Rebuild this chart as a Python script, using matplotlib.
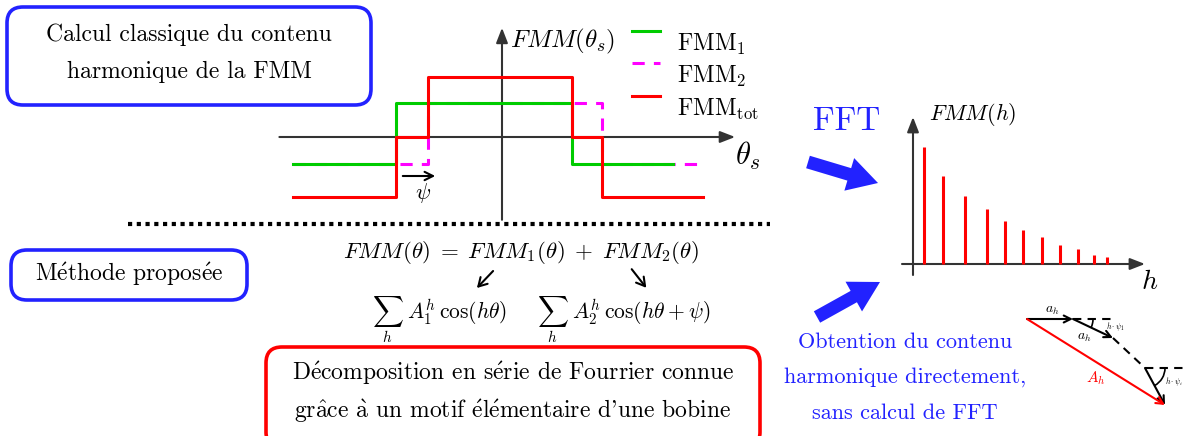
import numpy as np
import matplotlib
matplotlib.use("Agg")
import matplotlib.pyplot as plt
from matplotlib.patches import FancyBboxPatch, FancyArrow, Arc

plt.rcParams['font.family'] = ['cmr10', 'DejaVu Serif']
plt.rcParams['mathtext.fontset'] = 'cm'
plt.rcParams['axes.unicode_minus'] = False

W, H = 1184, 436

# --- waveform data (theta in units of ~70 px, amplitude in units of ~60 px)
theta_1 = [-2.99, -1.51, -1.51, 1.0, 1.0, 2.44]
fmm_1 = [-0.45, -0.45, 0.57, 0.57, -0.45, -0.45]
theta_2 = [-2.99, -1.06, -1.06, 1.43, 1.43, 2.87]
fmm_2 = [-0.45, -0.45, 0.57, 0.57, -0.45, -0.45]
theta_tot = [-2.99, -1.51, -1.51, -1.06, -1.06, 1.0, 1.0, 1.43, 1.43, 2.87]
fmm_tot = [-1.0, -1.0, 0.0, 0.0, 1.0, 1.0, 0.0, 0.0, -1.0, -1.0]

# --- spectrum data
h_pos = [0.55, 1.5, 2.6, 3.7, 4.6, 5.5, 6.45, 7.35, 8.25, 9.05, 9.7]
h_amp = [1.17, 0.88, 0.68, 0.55, 0.43, 0.34, 0.27, 0.19, 0.15, 0.09, 0.07]

# --- phasor chain (pixel-like units, y downwards)
ph_dx = [46, 40, 32, 20]
ph_dy = [0, 19, 30, 37]
ph_style = ['arrow', 'arrow', 'dashed', 'arrow']

legend_labels = [r'$\mathrm{FMM}_1$', r'$\mathrm{FMM}_2$', r'$\mathrm{FMM}_{\mathrm{tot}}$']

GREEN = '#00cc00'
MAGENTA = '#ff00ff'
RED = '#ff0000'
BLUE = '#2222ff'
AXC = '#333333'

# cmr10 has no precomposed accents: build them with mathtext
ACCENTS = {'é': r'$\mathrm{\acute{e}}$', 'à': r'$\mathrm{\grave{a}}$',
           'â': r'$\mathrm{\hat{a}}$'}


def fr(s):
    return ''.join(ACCENTS.get(c, c) for c in s)


fig = plt.figure(figsize=(W / 100, H / 100), dpi=100)
ax = fig.add_axes([0, 0, 1, 1])
ax.set_xlim(0, W)
ax.set_ylim(H, 0)
ax.axis('off')


def inset(x0, y0, x1, y1):
    a = fig.add_axes([x0 / W, 1 - y1 / H, (x1 - x0) / W, (y1 - y0) / H])
    a.axis('off')
    a.patch.set_alpha(0)
    return a


def rbox(x0, y0, x1, y1, color):
    ax.add_patch(FancyBboxPatch((x0, y0), x1 - x0, y1 - y0,
                                boxstyle='round,pad=0,rounding_size=16',
                                fc='white', ec=color, lw=2.6, zorder=1))


# boxes with text
rbox(7, 7, 371, 105, BLUE)
ax.text(189, 35, 'Calcul classique du contenu', ha='center', va='center', fontsize=17)
ax.text(189, 72, 'harmonique de la FMM', ha='center', va='center', fontsize=17)

rbox(11, 250, 247, 300, BLUE)
ax.text(129, 274, fr('Méthode proposée'), ha='center', va='center', fontsize=17)

rbox(266, 347, 760, 448, RED)
ax.text(513, 373, fr('Décomposition en série de Fourrier connue'), ha='center', va='center', fontsize=17)
ax.text(513, 411, fr('grâce à un motif élémentaire d') + "'" + 'une bobine',
        ha='center', va='center', fontsize=17)

# waveform
wa = inset(280, 15, 770, 225)
wa.set_xlim((280 - 502) / 70, (770 - 502) / 70)
wa.set_ylim((137 - 225) / 60, (137 - 15) / 60)
wa.annotate('', xy=(3.33, 0), xytext=(-3.18, 0),
            arrowprops=dict(arrowstyle='-|>,head_length=0.9,head_width=0.35', color=AXC, lw=1.5,
                            shrinkA=0, shrinkB=0), zorder=1)
wa.annotate('', xy=(0, 1.82), xytext=(0, -1.38),
            arrowprops=dict(arrowstyle='-|>,head_length=0.9,head_width=0.35', color=AXC, lw=1.5,
                            shrinkA=0, shrinkB=0), zorder=1)
wa.plot(theta_2, fmm_2, color=MAGENTA, lw=2.2, dashes=(4, 3), zorder=2)
wa.plot(theta_1, fmm_1, color=GREEN, lw=2.2, zorder=3)
wa.plot(theta_tot, fmm_tot, color=RED, lw=2.2, zorder=4)

# psi arrow
ax.annotate('', xy=(438, 176), xytext=(400, 176),
            arrowprops=dict(arrowstyle='->,head_length=0.6,head_width=0.3', color='black', lw=1.5))
ax.text(423, 193, r'$\psi$', ha='center', va='center', fontsize=16)

ax.text(510, 41, r'$FMM(\theta_s)$', ha='left', va='center', fontsize=18)
ax.text(748, 156, r'$\theta_s$', ha='center', va='center', fontsize=22)

# legend
for i, (lab, c) in enumerate(zip(legend_labels, [GREEN, MAGENTA, RED])):
    yl = 31 + 32.5 * i
    if i == 1:
        ax.plot([632, 660], [yl, yl], color=c, lw=2.2, dashes=(4, 3))
    else:
        ax.plot([632, 660], [yl, yl], color=c, lw=2.2)
    ax.text(677, yl + 13, lab, ha='left', va='center', fontsize=17)

# dotted separator
ax.plot([128, 770], [224, 224], color='black', lw=3, linestyle=(0, (1, 1.1)))

# equation
ax.text(521, 252, r'$FMM(\theta)\;=\;FMM_1(\theta)\;+\;FMM_2(\theta)$',
        ha='center', va='center', fontsize=16.5)
ax.annotate('', xy=(475, 290), xytext=(495, 269),
            arrowprops=dict(arrowstyle='->,head_length=0.6,head_width=0.35', color='black', lw=1.5))
ax.annotate('', xy=(648, 290), xytext=(630, 267),
            arrowprops=dict(arrowstyle='->,head_length=0.6,head_width=0.35', color='black', lw=1.5))
ax.text(440, 320, r'$\sum_{h}\ A_1^h\,\cos(h\theta)$', ha='center', va='center', fontsize=15.5)
ax.text(624, 320, r'$\sum_{h}\ A_2^h\,\cos(h\theta+\psi)$', ha='center', va='center', fontsize=15.5)

# FFT part
ax.text(847, 121, 'FFT', ha='center', va='center', fontsize=24, color=BLUE)
ax.add_patch(FancyArrow(808, 162, 70, 21, width=13, head_width=34, head_length=30,
                        length_includes_head=True, color=BLUE, lw=0))
ax.add_patch(FancyArrow(817, 317, 63, -35, width=13, head_width=34, head_length=30,
                        length_includes_head=True, color=BLUE, lw=0))

# spectrum
sa = inset(895, 105, 1165, 285)
sa.set_xlim((895 - 913) / 20, (1165 - 913) / 20)
sa.set_ylim((264 - 285) / 100, (264 - 105) / 100)
sa.annotate('', xy=(11.6, 0), xytext=(-0.55, 0),
            arrowprops=dict(arrowstyle='-|>,head_length=0.9,head_width=0.35', color=AXC, lw=1.5,
                            shrinkA=0, shrinkB=0), zorder=1)
sa.annotate('', xy=(0, 1.47), xytext=(0, -0.11),
            arrowprops=dict(arrowstyle='-|>,head_length=0.9,head_width=0.35', color=AXC, lw=1.5,
                            shrinkA=0, shrinkB=0), zorder=1)
sa.vlines(h_pos, 0, h_amp, color=RED, lw=2.2, zorder=2)
ax.text(929, 114, r'$FMM(h)$', ha='left', va='center', fontsize=16)
ax.text(1150, 282, r'$h$', ha='center', va='center', fontsize=20)

# blue conclusion text
for k, line in enumerate(['Obtention du contenu', 'harmonique directement,', 'sans calcul de FFT']):
    ax.text(905, 342 + 35.5 * k, line, ha='center', va='center', fontsize=16, color=BLUE)

# phasor diagram
x, y = 1027, 319
starts = []
for dx, dy, st in zip(ph_dx, ph_dy, ph_style):
    starts.append((x, y))
    if st == 'arrow':
        ax.annotate('', xy=(x + dx, y + dy), xytext=(x, y),
                    arrowprops=dict(arrowstyle='->,head_length=0.5,head_width=0.25', color='black',
                                    lw=1.5, shrinkA=0, shrinkB=0))
    else:
        ax.plot([x, x + dx], [y, y + dy], color='black', lw=1.5, dashes=(4, 3))
    x, y = x + dx, y + dy
ax.annotate('', xy=(x, y), xytext=starts[0],
            arrowprops=dict(arrowstyle='->,head_length=0.5,head_width=0.25', color=RED,
                            lw=1.5, shrinkA=0, shrinkB=0))
for i in (1, 3):
    sx, sy = starts[i]
    ax.plot([sx, sx + 38], [sy, sy], color='black', lw=1.5, dashes=(4, 3))
    ang = np.degrees(np.arctan2(ph_dy[i], ph_dx[i]))
    ax.add_patch(Arc((sx, sy), 40, 40, theta1=0, theta2=ang, color='black', lw=1.2))
ax.text(1052, 311, r'$a_h$', ha='center', va='center', fontsize=10)
ax.text(1084, 338, r'$a_h$', ha='center', va='center', fontsize=10)
ax.text(1096, 378, r'$A_h$', ha='center', va='center', fontsize=11, color=RED)
ax.text(1115, 326, r'$h\cdot\psi_1$', ha='center', va='center', fontsize=5.5)
ax.text(1174, 381, r'$h\cdot\psi_i$', ha='center', va='center', fontsize=5.5)

fig.savefig('out.png', dpi=100)
